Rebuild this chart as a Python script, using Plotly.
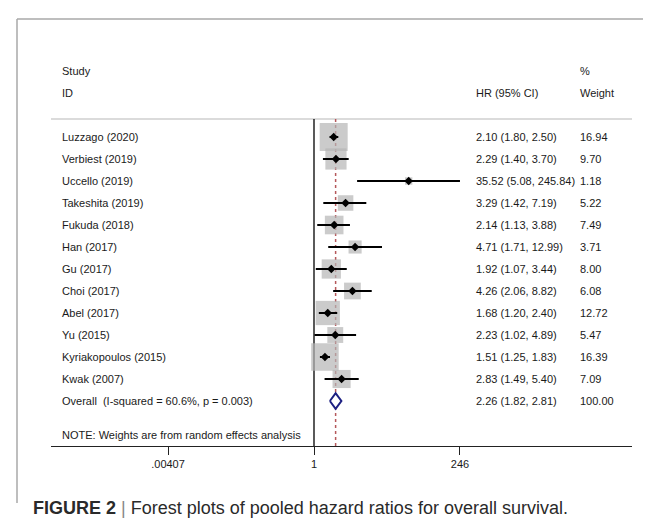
import math
import plotly.graph_objects as go

# ---------------- data ----------------
studies = ["Luzzago (2020)", "Verbiest (2019)", "Uccello (2019)", "Takeshita (2019)",
           "Fukuda (2018)", "Han (2017)", "Gu (2017)", "Choi (2017)", "Abel (2017)",
           "Yu (2015)", "Kyriakopoulos (2015)", "Kwak (2007)"]
hr = [2.10, 2.29, 35.52, 3.29, 2.14, 4.71, 1.92, 4.26, 1.68, 2.23, 1.51, 2.83]
ci_low = [1.80, 1.40, 5.08, 1.42, 1.13, 1.71, 1.07, 2.06, 1.20, 1.02, 1.25, 1.49]
ci_high = [2.50, 3.70, 245.84, 7.19, 3.88, 12.99, 3.44, 8.82, 2.40, 4.89, 1.83, 5.40]
weights = [16.94, 9.70, 1.18, 5.22, 7.49, 3.71, 8.00, 6.08, 12.72, 5.47, 16.39, 7.09]

overall_label = "Overall\u00a0 (I-squared = 60.6%, p = 0.003)"
overall_hr = 2.26
overall_low = 1.82
overall_high = 2.81
overall_weight = 100.00

note_text = "NOTE: Weights are from random effects analysis"
tick_vals = [0.00407, 1, 246]
tick_text = [".00407", "1", "246"]
caption = "<b>FIGURE 2</b> <span style='color:#888'>|</span> Forest plots of pooled hazard ratios for overall survival."

# ---------------- layout constants (pixels) ----------------
W, H = 651, 521
X1_PX = 306          # pixel of HR = 1
PX_PER_DEC = 61.06   # pixels per decade
AX_L, AX_R = 43, 624
ROW0_PX, ROW_STEP = 129, 22
AX_BOTTOM_PX = 438
LINE_TOP_PX = 111

def row_of(py):
    return (py - ROW0_PX) / ROW_STEP

def px(xp):
    return xp / W

def py_paper(yp):
    return 1 - yp / H

xr = [(AX_L - X1_PX) / PX_PER_DEC, (AX_R - X1_PX) / PX_PER_DEC]
yr = [row_of(AX_BOTTOM_PX), row_of(0)]

n = len(studies)
rows = list(range(n))
overall_row = n
note_row = row_of(427)
line_row = row_of(LINE_TOP_PX)

TXT = "#1a1a1a"
FONT = "Liberation Sans, Arial, Helvetica, sans-serif"
FS = 11

fig = go.Figure()

# weight boxes
fig.add_trace(go.Scatter(
    x=hr, y=rows, mode="markers",
    marker=dict(symbol="square", size=[6.8 * math.sqrt(w) for w in weights],
                color="#b5b5b5", line=dict(width=0)),
    hoverinfo="skip"))

# CI lines
cx, cy = [], []
for lo, hi, r in zip(ci_low, ci_high, rows):
    cx += [lo, hi, None]
    cy += [r, r, None]
fig.add_trace(go.Scatter(x=cx, y=cy, mode="lines",
                         line=dict(color="black", width=2), hoverinfo="skip"))

# point estimates
fig.add_trace(go.Scatter(x=hr, y=rows, mode="markers",
                         marker=dict(symbol="diamond", size=6.5, color="black"),
                         hoverinfo="skip"))

# overall diamond
dh = 0.36
fig.add_trace(go.Scatter(
    x=[overall_low, overall_hr, overall_high, overall_hr, overall_low],
    y=[overall_row, overall_row - dh, overall_row, overall_row + dh, overall_row],
    mode="lines", fill="toself", fillcolor="white",
    line=dict(color="#1c1f82", width=2), hoverinfo="skip"))

shapes = [
    # frame
    dict(type="line", xref="paper", yref="paper", x0=px(9), x1=1.0,
         y0=py_paper(11), y1=py_paper(11), line=dict(color="#a8a8a8", width=1.5)),
    dict(type="line", xref="paper", yref="paper", x0=px(9), x1=px(9),
         y0=py_paper(11), y1=py_paper(495), line=dict(color="#a8a8a8", width=1.5)),
    # header rule
    dict(type="line", xref="paper", yref="y", x0=px(AX_L), x1=px(AX_R),
         y0=line_row, y1=line_row, line=dict(color="#b8b8b8", width=1.2), layer="below"),
    # null line
    dict(type="line", xref="x", yref="y", x0=1, x1=1, y0=line_row, y1=yr[0],
         line=dict(color="black", width=1.3), layer="below"),
    # overall dashed line
    dict(type="line", xref="x", yref="y", x0=overall_hr, x1=overall_hr,
         y0=line_row, y1=yr[0], line=dict(color="#b5585b", width=1.5, dash="3px,3px"),
         layer="below"),
]

ann = []
def txt(x, y, s, size=FS, xref="paper", yref="y", color=TXT):
    ann.append(dict(x=x, y=y, xref=xref, yref=yref, text=s, showarrow=False,
                    xanchor="left", yanchor="middle",
                    font=dict(size=size, color=color, family=FONT)))

NAME_X, HR_X, W_X = px(52), px(466), px(570)
txt(NAME_X, -3, "Study")
txt(NAME_X, -2, "ID")
txt(HR_X, -2, "HR (95% CI)")
txt(W_X, -3, "%")
txt(W_X, -2, "Weight")
for s, h, lo, hi, w, r in zip(studies, hr, ci_low, ci_high, weights, rows):
    txt(NAME_X, r, s)
    txt(HR_X, r, f"{h:.2f} ({lo:.2f}, {hi:.2f})")
    txt(W_X, r, f"{w:.2f}")
txt(NAME_X, overall_row, overall_label)
txt(HR_X, overall_row, f"{overall_hr:.2f} ({overall_low:.2f}, {overall_high:.2f})")
txt(W_X, overall_row, f"{overall_weight:.2f}")
txt(NAME_X, note_row, note_text)
txt(px(23), py_paper(500), caption, size=18, yref="paper", color="#2a2a2a")

fig.update_layout(
    width=W, height=H, margin=dict(l=0, r=0, t=0, b=0),
    paper_bgcolor="white", plot_bgcolor="white", showlegend=False,
    font=dict(family=FONT, color=TXT, size=FS),
    shapes=shapes, annotations=ann,
    xaxis=dict(type="log", domain=[px(AX_L), px(AX_R)], range=xr,
               showline=True, linecolor="#222", linewidth=1.3,
               ticks="outside", ticklen=8, tickwidth=1.3, tickcolor="#222",
               tickvals=tick_vals, ticktext=tick_text,
               tickfont=dict(size=FS, color=TXT, family=FONT),
               showgrid=False, zeroline=False, fixedrange=True),
    yaxis=dict(domain=[1 - AX_BOTTOM_PX / H, 1], range=yr, visible=False,
               showgrid=False, zeroline=False, fixedrange=True),
)

fig.write_html("out.html", config={"displayModeBar": False})
